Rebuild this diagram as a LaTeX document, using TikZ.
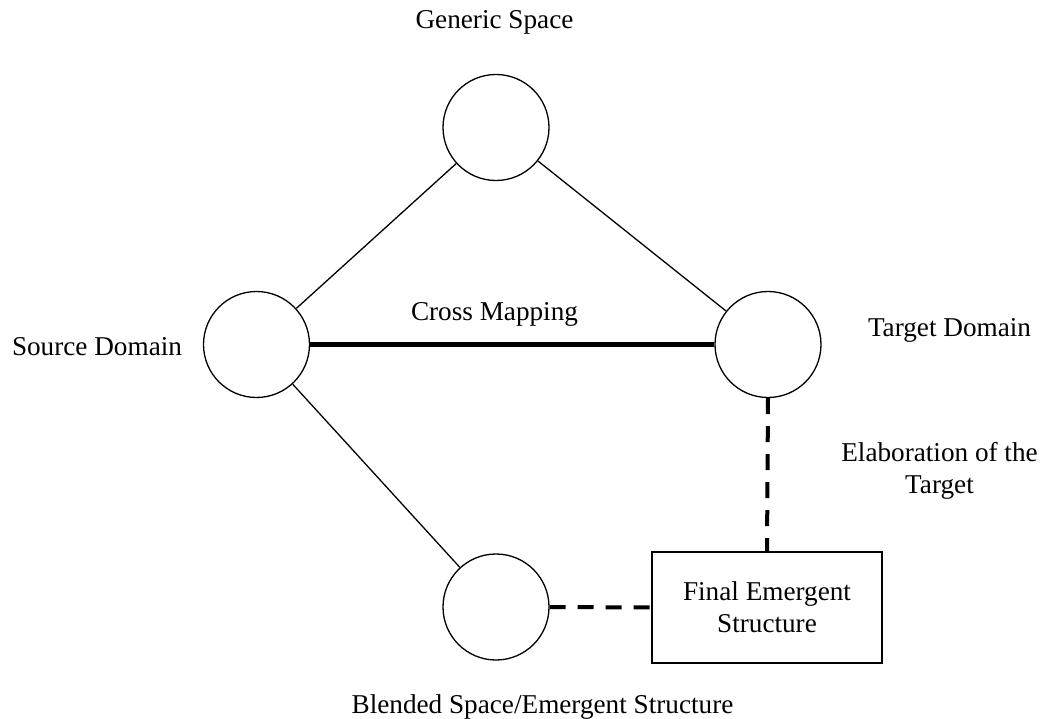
\documentclass[tikz,border=0pt]{standalone}
\usepackage{fontspec}
\setmainfont{Liberation Serif}
\begin{document}
\begin{tikzpicture}[x=1pt,y=-1pt,
  every node/.style={font=\fontsize{27.2}{32}\selectfont},
  space/.style={circle,draw,line width=1.3pt,minimum size=106pt,inner sep=0pt},
  label text/.style={anchor=base,inner sep=0pt,align=center},
  structbox/.style={draw,line width=1.3pt,minimum width=230pt,minimum height=111pt,inner sep=0pt,align=center},
  thin link/.style={line width=1.3pt},
  mapping/.style={line width=5pt},
  elaboration/.style={line width=4pt,dash pattern=on 16pt off 12pt}]
\useasboundingbox (0,0) rectangle (1044,719);

% mental spaces
\node[space] (generic) at (496,127.5) {};
\node[space] (source)  at (256.5,344.5) {};
\node[space] (target)  at (768,344.5) {};
\node[space] (blended) at (496,607) {};
\node[structbox] (final) at (767,607.5) {Final Emergent\\Structure};

% labels (anchored on the baseline of the last line)
\node[label text] (genericlbl) at (494.5,29) {Generic Space};
\node[label text] (sourcelbl)  at (97,355) {Source Domain};
\node[label text] (crosslbl)   at (494.5,320) {Cross Mapping};
\node[label text] (targetlbl)  at (949.5,337) {Target Domain};
\node[label text] (elablbl)    at (939.5,493) {Elaboration of the\\Target};
\node[label text] (blendedlbl) at (542.5,713) {Blended Space/Emergent Structure};

% connections
\draw[thin link] (source) -- (generic);
\draw[thin link] (generic) -- (target);
\draw[thin link] (source) -- (blended);
\draw[mapping] (source.east) -- (target.west);
\draw[elaboration] (target.south) -- (final.north);
\draw[elaboration] (blended.east) -- (final.west);
\end{tikzpicture}
\end{document}
